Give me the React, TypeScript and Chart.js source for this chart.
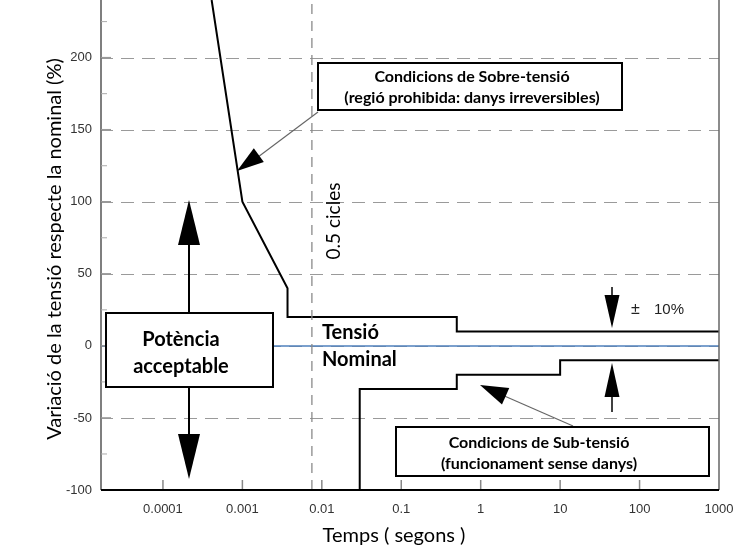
import React, { useEffect, useRef } from "react";
import { Chart, registerables } from "chart.js";

Chart.register(...registerables);

// ---- axis ranges & ticks ----
const X_MIN = 1.66e-5;
const X_MAX = 1000;
const Y_MIN = -100;
const Y_MAX = 240;

const xTickValues = [0.0001, 0.001, 0.01, 0.1, 1, 10, 100, 1000];
const xTickLabels = ["0.0001", "0.001", "0.01", "0.1", "1", "10", "100", "1000"];
const yTickValues = [-100, -50, 0, 50, 100, 150, 200];
const yTickLabels = ["-100", "-50", "0", "50", "100", "150", "200"];
const yMinorTicks = [-75, -25, 25, 75, 125, 175, 225];

// ---- series ----
const overTime = [0.00041, 0.001, 0.0037, 0.0037, 0.5, 0.5, 1000];
const overVolt = [240, 100, 40, 20, 20, 10, 10];
const underTime = [0.0037, 0.03, 0.03, 0.5, 0.5, 10, 10, 1000];
const underVolt = [-100, -100, -30, -30, -20, -20, -10, -10];
const nominalTime = [X_MIN, X_MAX];
const nominalVolt = [0, 0];
const halfCycleTime = [0.0075, 0.0075];
const halfCycleVolt = [Y_MIN, Y_MAX];

const zip = (xs: number[], ys: number[]) => xs.map((x, i) => ({ x, y: ys[i] }));

const TXT = "Lato, 'Open Sans', sans-serif";
const TICK = "'Liberation Sans', Arial, sans-serif";

function arrowHead(ctx: CanvasRenderingContext2D, fx: number, fy: number, tx: number, ty: number, len: number, hw: number) {
  const a = Math.atan2(ty - fy, tx - fx);
  const bx = tx - len * Math.cos(a);
  const by = ty - len * Math.sin(a);
  const px = -Math.sin(a) * hw;
  const py = Math.cos(a) * hw;
  ctx.beginPath();
  ctx.moveTo(tx, ty);
  ctx.lineTo(bx + px, by + py);
  ctx.lineTo(bx - px, by - py);
  ctx.closePath();
  ctx.fillStyle = "#000";
  ctx.fill();
}

function line(ctx: CanvasRenderingContext2D, x1: number, y1: number, x2: number, y2: number, color: string, w: number) {
  ctx.beginPath();
  ctx.moveTo(x1, y1);
  ctx.lineTo(x2, y2);
  ctx.strokeStyle = color;
  ctx.lineWidth = w;
  ctx.stroke();
}

function box(ctx: CanvasRenderingContext2D, x1: number, y1: number, x2: number, y2: number) {
  ctx.fillStyle = "#fff";
  ctx.fillRect(x1, y1, x2 - x1, y2 - y1);
  ctx.strokeStyle = "#000";
  ctx.lineWidth = 2;
  ctx.strokeRect(x1, y1, x2 - x1, y2 - y1);
}

const decorPlugin = {
  id: "decor",
  beforeDatasetsDraw(chart: any) {
    const { ctx, chartArea, scales } = chart;
    const ys = scales.y;
    ctx.save();
    ctx.setLineDash([13, 8]);
    ctx.lineDashOffset = -20;
    yTickValues.forEach((v) => {
      if (v === Y_MIN) return;
      const py = Math.round(ys.getPixelForValue(v)) + 0.5;
      line(ctx, chartArea.left, py, chartArea.right, py, "#9a9a9a", 1.2);
    });
    ctx.restore();
  },
  afterDatasetsDraw(chart: any) {
    const { ctx, chartArea, scales } = chart;
    const xs = scales.x;
    const ys = scales.y;
    const L = chartArea.left, R = chartArea.right, T = chartArea.top, B = chartArea.bottom;
    ctx.save();
    ctx.setLineDash([]);

    // axes frame
    line(ctx, R, T, R, B, "#666", 1.5);
    line(ctx, L, T, L, B, "#555", 1.5);
    xTickValues.forEach((v) => {
      const px = xs.getPixelForValue(v);
      line(ctx, px, B, px, B - 10, "#888", 1.5);
    });
    yTickValues.forEach((v) => {
      const py = ys.getPixelForValue(v);
      line(ctx, L, py, L + 10, py, "#999", 1.5);
    });
    yMinorTicks.forEach((v) => {
      const py = ys.getPixelForValue(v);
      line(ctx, L, py, L + 6, py, "#aaa", 1);
    });
    line(ctx, L, B, R, B, "#000", 2);

    // Sobre-tensió box + arrow
    line(ctx, 318, 112, 250, 163, "#666", 1.2);
    arrowHead(ctx, 318, 112, 237, 171, 27, 8.5);
    box(ctx, 318, 63, 622, 110);
    ctx.fillStyle = "#000";
    ctx.textAlign = "center";
    ctx.textBaseline = "middle";
    ctx.font = `bold 16px ${TXT}`;
    ctx.fillText("Condicions de Sobre-tensió", 472, 77);
    ctx.fillText("(regió prohibida: danys irreversibles)", 472, 98);

    // Potència acceptable box + arrows
    line(ctx, 189, 240, 189, 313, "#000", 2);
    arrowHead(ctx, 189, 313, 189, 200, 45, 11);
    line(ctx, 189, 387, 189, 440, "#000", 2);
    arrowHead(ctx, 189, 387, 189, 479, 45, 11);
    box(ctx, 106, 313, 273, 387);
    ctx.fillStyle = "#000";
    ctx.font = `bold 20px ${TXT}`;
    ctx.fillText("Potència", 181, 340);
    ctx.fillText("acceptable", 181, 367);

    // Tensió Nominal
    ctx.textAlign = "left";
    ctx.font = `bold 20px ${TXT}`;
    ctx.fillText("Tensió", 322, 333);
    ctx.fillText("Nominal", 322, 360);

    // ±10% arrows
    line(ctx, 612, 287, 612, 305, "#000", 1.5);
    arrowHead(ctx, 612, 287, 612, 328, 33, 7.5);
    line(ctx, 612, 390, 612, 412, "#000", 1.5);
    arrowHead(ctx, 612, 412, 612, 363, 34, 7.5);
    ctx.fillStyle = "#222";
    ctx.font = `16px ${TICK}`;
    ctx.fillText("±", 631, 310);
    ctx.font = `15px ${TICK}`;
    ctx.fillText("10%", 654, 310);

    // Sub-tensió box + arrow
    line(ctx, 573, 426, 493, 391, "#666", 1.2);
    arrowHead(ctx, 573, 426, 480, 385, 28, 9);
    box(ctx, 396, 427, 709, 476);
    ctx.fillStyle = "#000";
    ctx.textAlign = "center";
    ctx.font = `bold 16px ${TXT}`;
    ctx.fillText("Condicions de Sub-tensió", 539, 443);
    ctx.fillText("(funcionament sense danys)", 539, 464);

    // 0.5 cicles
    ctx.save();
    ctx.translate(334, 221);
    ctx.rotate(-Math.PI / 2);
    ctx.font = `19px ${TXT}`;
    ctx.fillText("0.5 cicles", 0, 0);
    ctx.restore();

    // axis titles
    ctx.fillStyle = "#000";
    ctx.font = `20px ${TXT}`;
    ctx.fillText("Temps ( segons )", 394, 536);
    ctx.save();
    ctx.translate(55, 249);
    ctx.rotate(-Math.PI / 2);
    ctx.fillText("Variació de la tensió respecte la nominal (%)", 0, 0);
    ctx.restore();

    ctx.restore();
  },
};

export default function App() {
  const ref = useRef<HTMLCanvasElement | null>(null);
  useEffect(() => {
    document.body.style.margin = "0";
    if (!ref.current) return;
    const chart = new Chart(ref.current, {
      type: "line",
      data: {
        datasets: [
          { data: zip(halfCycleTime, halfCycleVolt), borderColor: "#8a8a8a", borderWidth: 1.3, borderDash: [10, 7], pointRadius: 0 },
          { data: zip(nominalTime, nominalVolt), borderColor: "#4f81bd", borderWidth: 1.5, pointRadius: 0 },
          { data: zip(overTime, overVolt), borderColor: "#000", borderWidth: 2, pointRadius: 0, tension: 0 },
          { data: zip(underTime, underVolt), borderColor: "#000", borderWidth: 2, pointRadius: 0, tension: 0 },
        ],
      },
      options: {
        animation: false,
        responsive: true,
        maintainAspectRatio: false,
        layout: { padding: { top: 0, right: 24, bottom: 0, left: 0 } },
        plugins: { legend: { display: false }, tooltip: { enabled: false } },
        scales: {
          x: {
            type: "logarithmic",
            min: X_MIN,
            max: X_MAX,
            grid: { display: false, drawTicks: false },
            border: { display: false },
            afterBuildTicks: (s: any) => {
              s.ticks = xTickValues.map((v) => ({ value: v }));
            },
            afterFit: (s: any) => {
              s.height = 65;
              s.paddingLeft = 0;
              s.paddingRight = 0;
            },
            ticks: {
              autoSkip: false,
              maxRotation: 0,
              padding: 12,
              color: "#333",
              font: { family: TICK, size: 13 },
              callback: (_v: any, i: number) => xTickLabels[i],
            },
          },
          y: {
            type: "linear",
            min: Y_MIN,
            max: Y_MAX,
            grid: { display: false, drawTicks: false },
            border: { display: false },
            afterBuildTicks: (s: any) => {
              s.ticks = yTickValues.map((v) => ({ value: v }));
            },
            afterFit: (s: any) => {
              s.width = 101;
              s.paddingTop = 0;
              s.paddingBottom = 0;
            },
            ticks: {
              autoSkip: false,
              padding: 9,
              color: "#333",
              font: { family: TICK, size: 13 },
              callback: (_v: any, i: number) => yTickLabels[i],
            },
          },
        },
      },
      plugins: [decorPlugin],
    } as any);
    return () => chart.destroy();
  }, []);
  return (
    <div style={{ position: "absolute", left: 0, top: 0, width: 743, height: 555, background: "#fff" }}>
      <canvas ref={ref} />
    </div>
  );
}
